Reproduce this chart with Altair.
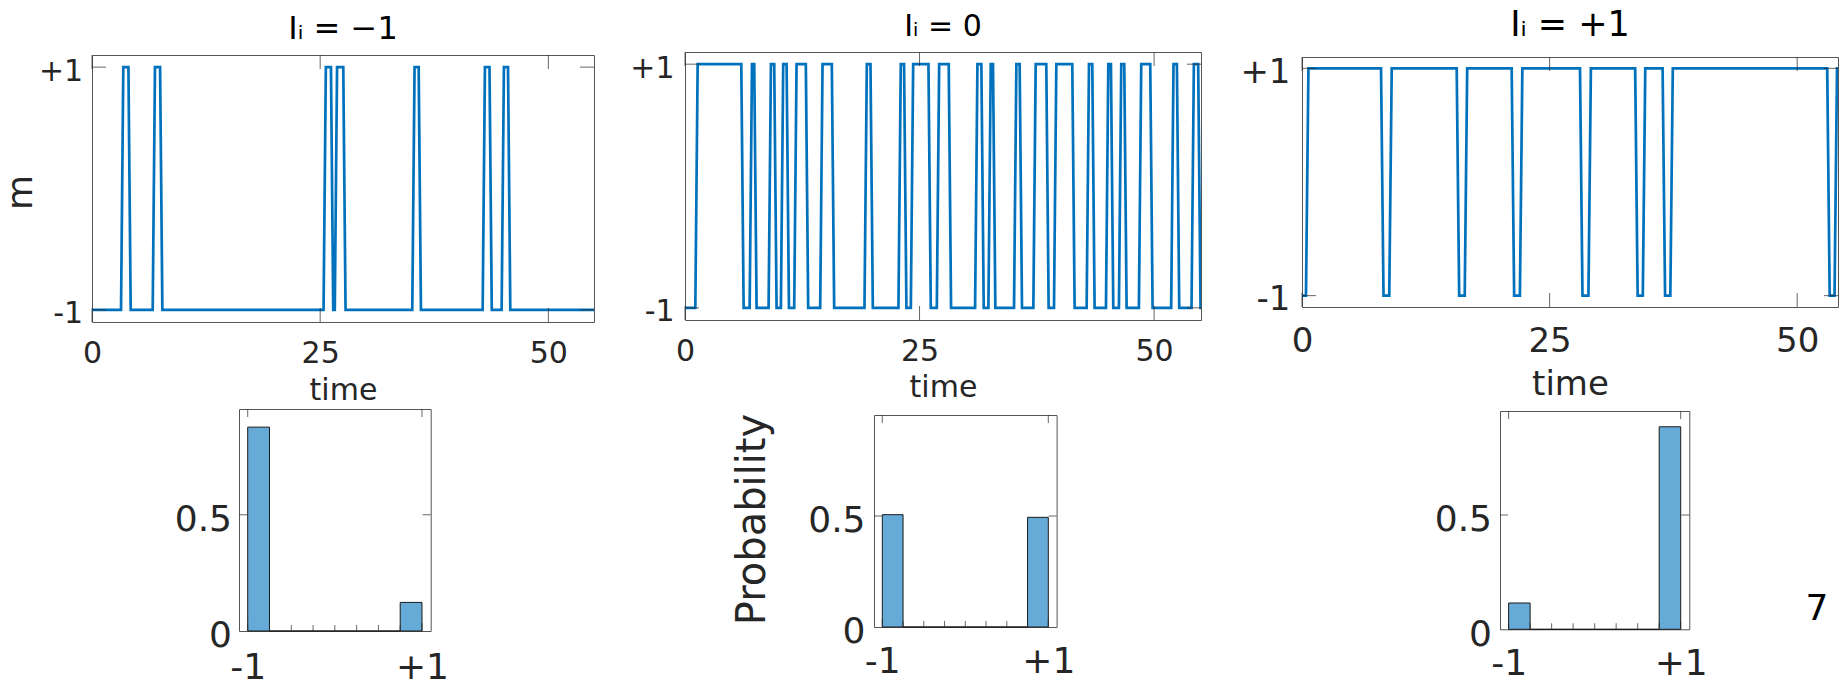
import altair as alt
import pandas as pd

# ------------------------------------------------------------------ data
T_MAX = 55.0          # end of the simulated time window
DT = 0.25             # sampling step of the trajectories (width of each switch)

x_ticks_top = [0, 25, 50]
y_ticks_top = [-1, 1]
x_ticks_hist = [-1, 1]
y_ticks_hist = [0, 0.5]
bin_edges = [-1.0, -0.75, -0.5, -0.25, 0.0, 0.25, 0.5, 0.75, 1.0]

titles = ["Iᵢ = −1", "Iᵢ = 0", "Iᵢ = +1"]

# times where m leaves -1 (start of rise) and returns to -1 (end of fall)
p1_up = [3.18, 6.65, 25.37, 26.60, 35.09, 42.80, 44.88]
p1_down = [4.24, 7.71, 26.43, 27.78, 36.04, 43.80, 45.83]

p2_up = [1.10, 6.89, 8.91, 10.22, 11.64, 14.41, 19.13, 22.75, 24.07, 26.84,
         30.92, 32.34, 35.07, 37.13, 39.33, 42.81, 44.87, 46.25, 48.38, 51.82, 53.99]
p2_down = [6.25, 7.63, 9.76, 11.08, 13.13, 15.90, 20.02, 23.60, 26.20, 28.36,
           31.84, 33.08, 35.92, 38.76, 41.53, 43.66, 45.65, 47.07, 49.84, 52.68, 54.95]

p3_up = [0.40, 8.81, 16.43, 22.00, 28.92, 34.41, 37.19, 53.77]
p3_down = [8.23, 15.87, 21.42, 28.32, 33.89, 36.66, 53.28]   # last stay at +1 lasts to the end

h1_prob = [0.877, 0, 0, 0, 0, 0, 0, 0.123]
h2_prob = [0.506, 0, 0, 0, 0, 0, 0, 0.494]
h3_prob = [0.115, 0, 0, 0, 0, 0, 0, 0.886]

page_number = ["7"]

# ------------------------------------------------------------------ style
FONT = "DejaVu Sans"
LINE = "#0072BD"
BAR_FILL = "#66AAD7"
AX = "#262626"
BOX = "#555555"


def trace(up, down):
    t, m = [0.0], [-1]
    for i, u in enumerate(up):
        t += [u, u + DT]
        m += [-1, 1]
        if i < len(down):
            t += [down[i] - DT, down[i]]
            m += [1, -1]
    t.append(T_MAX)
    m.append(m[-1])
    return pd.DataFrame({"t": t, "m": m, "o": list(range(len(t)))})


def frame_ticks(xvals, yvals, xs, ys, xdom, ydom, L, xaxis, yaxis):
    dx = pd.DataFrame({"v": xvals})
    dy = pd.DataFrame({"v": yvals})
    out = []
    for yd, off in ((ydom[0], -L / 2), (ydom[1], L / 2)):
        out.append(alt.Chart(dx).mark_tick(orient="vertical", size=L, thickness=1,
                                           color=AX, yOffset=off).encode(
            x=alt.X("v:Q", scale=xs, axis=xaxis),
            y=alt.YDatum(yd, axis=yaxis)))
    for xd, off in ((xdom[0], L / 2), (xdom[1], -L / 2)):
        out.append(alt.Chart(dy).mark_tick(orient="horizontal", size=L, thickness=1,
                                           color=AX, xOffset=off).encode(
            x=alt.XDatum(xd, axis=xaxis),
            y=alt.Y("v:Q", scale=ys, axis=yaxis)))
    return out


def top_panel(df, title, w, h, xmax, lab, xpad, ypad, yoff, tfs, ty, hfs, hoff, ylab=None):
    xdom = [0, xmax]
    ydom = [-1.1, 1.1]
    xs = alt.Scale(domain=xdom, nice=False, zero=False)
    ys = alt.Scale(domain=ydom, nice=False, zero=False)
    xaxis = alt.Axis(values=x_ticks_top, title="time", labelFontSize=lab,
                     labelPadding=xpad, titleFontSize=tfs, titleBaseline="alphabetic",
                     titleY=ty)
    ykw = dict(values=y_ticks_top, labelExpr="datum.value > 0 ? '+1' : '-1'",
               labelFontSize=lab, labelPadding=ypad, labelOffset=yoff)
    if ylab:
        ykw.update(title=ylab["text"], titleFontSize=ylab["fs"], titleAngle=270,
                   titleBaseline="alphabetic", titleAlign="center",
                   titleX=ylab["x"], titleY=ylab["y"])
    else:
        ykw.update(title=None)
    yaxis = alt.Axis(**ykw)
    line = alt.Chart(df).mark_line(color=LINE, strokeWidth=2.7, clip=True).encode(
        x=alt.X("t:Q", scale=xs, axis=xaxis),
        y=alt.Y("m:Q", scale=ys, axis=yaxis),
        order="o:Q")
    layers = [line] + frame_ticks(x_ticks_top, y_ticks_top, xs, ys, xdom, ydom, 14, xaxis, yaxis)
    return alt.layer(*layers).properties(
        width=w, height=h,
        title=alt.TitleParams(title, font=FONT, fontSize=hfs, fontWeight="normal",
                              color="black", anchor="middle", frame="group",
                              baseline="alphabetic", offset=hoff),
        view=alt.ViewBackground(stroke=BOX, strokeWidth=1, strokeOpacity=1))


def hist_panel(probs, w, h, lab, xpad, ypad, yoff, ylab=None):
    xdom = [-1.1, 1.1]
    ydom = [0, 0.955]
    xs = alt.Scale(domain=xdom, nice=False, zero=False)
    ys = alt.Scale(domain=ydom, nice=False, zero=False)
    df = pd.DataFrame({"lo": bin_edges[:-1], "hi": bin_edges[1:], "p": probs})
    xaxis = alt.Axis(values=x_ticks_hist, labelExpr="datum.value > 0 ? '+1' : '-1'",
                     labelFontSize=lab, labelPadding=xpad, title=None)
    ykw = dict(values=y_ticks_hist, labelExpr="datum.value == 0 ? '0' : '0.5'",
               labelFontSize=lab, labelPadding=ypad, labelOffset=yoff)
    if ylab:
        ykw.update(title=ylab["text"], titleFontSize=ylab["fs"], titleAngle=270,
                   titleBaseline="alphabetic", titleAlign="center",
                   titleX=ylab["x"], titleY=ylab["y"])
    else:
        ykw.update(title=None)
    yaxis = alt.Axis(**ykw)
    bars = alt.Chart(df).mark_bar(color=BAR_FILL, stroke="#1a1a1a", strokeWidth=1).encode(
        x=alt.X("lo:Q", scale=xs, axis=xaxis),
        x2="hi:Q",
        y=alt.Y("p:Q", scale=ys, axis=yaxis, stack=None),
        y2=alt.Y2Datum(0))
    edges = pd.DataFrame({"v": bin_edges[1:-1]})
    minor = alt.Chart(edges).mark_tick(orient="vertical", size=6, thickness=1,
                                       color=AX, yOffset=-3).encode(
        x=alt.X("v:Q", scale=xs, axis=xaxis), y=alt.YDatum(0, axis=yaxis))
    layers = [bars, minor] + frame_ticks(x_ticks_hist, [0.5], xs, ys, xdom, ydom, 8, xaxis, yaxis)
    return alt.layer(*layers).properties(
        width=w, height=h,
        view=alt.ViewBackground(stroke=BOX, strokeWidth=1, strokeOpacity=1))


one = pd.DataFrame({"a": [0]})


def spacer(w, h):
    return alt.Chart(one).mark_point(opacity=0, size=0).properties(width=w, height=h)


def vstack(*items):
    return alt.vconcat(*items, spacing=0, bounds="flush")


def hstack(*items):
    return alt.hconcat(*items, spacing=0, bounds="flush")


P1 = top_panel(trace(p1_up, p1_down), titles[0], 502, 267, T_MAX, 30, 16.2, 9.3, 4, 30, 77.5,
               32, -16.3, ylab=dict(text="m", fs=36, x=-60.3, y=137))
P2 = top_panel(trace(p2_up, p2_down), titles[1], 516, 268, T_MAX, 30, 16.5, 10.9, 4, 30, 76.7,
               30, -13.7)
# right panel is cut by the page edge in the original; same time scale (9.9 px / unit)
P3 = top_panel(trace(p3_up, p3_down), titles[2], 536, 250, 54.12, 34, 17.3, 12, 4, 34, 87,
               35, -16.0)

H1 = hist_panel(h1_prob, 191.7, 222, 36, 19.5, 7.5, 4.9)
H2 = hist_panel(h2_prob, 182.6, 212, 36, 17.8, 9, 4.9,
                ylab=dict(text="Probability", fs=40, x=-109.2, y=104))
H3 = hist_panel(h3_prob, 189.3, 218.3, 36, 17.5, 8.5, 4.9)

page = alt.Chart(pd.DataFrame({"s": page_number})).mark_text(
    font=FONT, fontSize=36, align="center", baseline="alphabetic", color="black").encode(
    text="s:N", x=alt.value(10), y=alt.value(209)).properties(width=20, height=209)

# nested groups take no room in a flush layout, so the spacers alone set positions
colA = vstack(spacer(1, 3), P1, spacer(1, 87), hstack(spacer(146.3, 1), H1))
colB = vstack(P2, spacer(1, 94.7), hstack(spacer(188.5, 1), H2))
colC = vstack(spacer(1, 5), P3, spacer(1, 104),
              hstack(spacer(198, 1), H3, spacer(116.7, 1), page))

chart = alt.hconcat(colA, spacer(593, 1), colB, spacer(617, 1), colC,
                    spacing=0, bounds="flush").properties(
    autosize=alt.AutoSizeParams(type="none"),
    padding={"left": 84, "top": 44, "right": 1747, "bottom": 627},
    background="white",
).configure_view(strokeOpacity=0).configure_axis(
    domain=False, ticks=False, tickSize=0, grid=False,
    labelFont=FONT, titleFont=FONT, labelColor=AX, titleColor=AX,
    titleFontWeight="normal", labelFlush=False, labelOverlap=False,
)

chart.save("out.html", embed_options={"renderer": "svg", "actions": False})
